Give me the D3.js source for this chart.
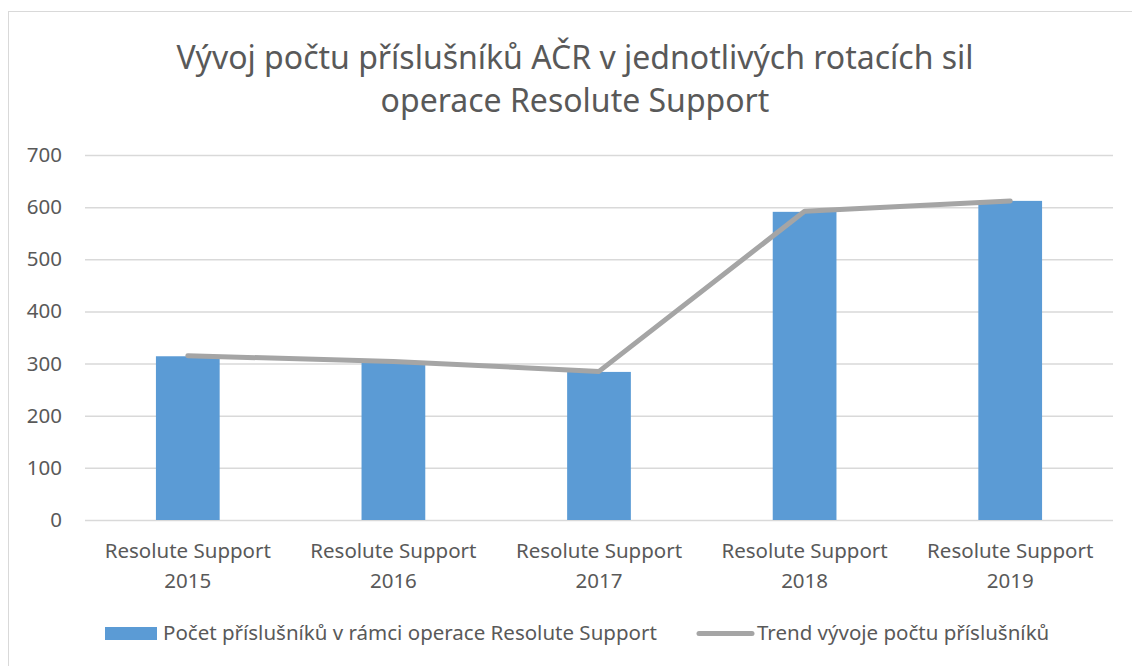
<!DOCTYPE html>
<html>
<head>
<meta charset="utf-8">
<script src="https://cdn.jsdelivr.net/npm/d3@7"></script>
<style>
  body { margin: 0; background: #fff; }
  svg text { font-family: "Noto Sans", sans-serif; fill: #595959; }
</style>
</head>
<body>
<svg id="chart" width="1132" height="666"></svg>
<script>
// data
var categories = ['Resolute Support 2015', 'Resolute Support 2016', 'Resolute Support 2017', 'Resolute Support 2018', 'Resolute Support 2019'];
var memberCounts = [314, 303, 284, 591, 612];
var trendValues = [315, 304, 285, 592, 612];
var yTicks = [0, 100, 200, 300, 400, 500, 600, 700];
var titleLines = ['Vývoj počtu příslušníků AČR v jednotlivých rotacích sil', 'operace Resolute Support'];
var legendLabels = ['Počet příslušníků v rámci operace Resolute Support', 'Trend vývoje počtu příslušníků'];

var svg = d3.select('#chart');
var plot = { left: 85, right: 1113, top: 155, bottom: 520 };

// outer frame
svg.append('rect').attr('x', 8.5).attr('y', 11.5).attr('width', 1140).attr('height', 700)
  .attr('fill', 'none').attr('stroke', '#d9d9d9').attr('stroke-width', 1);

var x = d3.scaleBand().domain(categories).range([plot.left, plot.right]).padding(0);
var y = d3.scaleLinear().domain([0, 700]).range([plot.bottom, plot.top]);
var barWidth = x.bandwidth() * 0.31;

// title
svg.append('g').selectAll('text').data(titleLines).enter().append('text')
  .attr('x', 575).attr('y', function(d, i) { return 69 + i * 43; })
  .attr('text-anchor', 'middle').style('font-size', '32px')
  .text(function(d) { return d; });

// gridlines + y labels
var yAxis = d3.axisLeft(y).tickValues(yTicks).tickSize(-(plot.right - plot.left)).tickPadding(23);
var gy = svg.append('g').attr('transform', 'translate(' + plot.left + ',0)').call(yAxis);
gy.select('.domain').remove();
gy.selectAll('.tick line').attr('stroke', '#d9d9d9').attr('stroke-width', 1.5);
gy.selectAll('.tick text').style('font-size', '20.5px').style('font-family', '"Noto Sans", sans-serif').attr('fill', '#595959');

// bars
svg.append('g').selectAll('rect').data(memberCounts).enter().append('rect')
  .attr('x', function(d, i) { return x(categories[i]) + (x.bandwidth() - barWidth) / 2; })
  .attr('y', function(d) { return y(d); })
  .attr('width', barWidth)
  .attr('height', function(d) { return y(0) - y(d); })
  .attr('fill', '#5b9bd5');

// trend line
var line = d3.line()
  .x(function(d, i) { return x(categories[i]) + x.bandwidth() / 2; })
  .y(function(d) { return y(d); });
svg.append('path').datum(trendValues).attr('d', line)
  .attr('fill', 'none').attr('stroke', '#a5a5a5').attr('stroke-width', 5)
  .attr('stroke-linecap', 'round').attr('stroke-linejoin', 'round');

// category labels, two lines each
var xl = svg.append('g').selectAll('text').data(categories).enter().append('text')
  .attr('text-anchor', 'middle').style('font-size', '20.5px');
xl.append('tspan')
  .attr('x', function(d) { return x(d) + x.bandwidth() / 2; }).attr('y', 558)
  .text(function(d) { return d.replace(/ \d+$/, ''); });
xl.append('tspan')
  .attr('x', function(d) { return x(d) + x.bandwidth() / 2; }).attr('y', 588)
  .text(function(d) { return d.match(/\d+$/)[0]; });

// legend
var lg = svg.append('g');
lg.append('rect').attr('x', 105).attr('y', 627).attr('width', 52).attr('height', 13).attr('fill', '#5b9bd5');
lg.append('text').attr('x', 163).attr('y', 640).style('font-size', '20.5px').text(legendLabels[0]);
lg.append('line').attr('x1', 699).attr('x2', 752).attr('y1', 633.5).attr('y2', 633.5)
  .attr('stroke', '#a5a5a5').attr('stroke-width', 5).attr('stroke-linecap', 'round');
lg.append('text').attr('x', 757).attr('y', 640).style('font-size', '20.5px').text(legendLabels[1]);
</script>
</body>
</html>
